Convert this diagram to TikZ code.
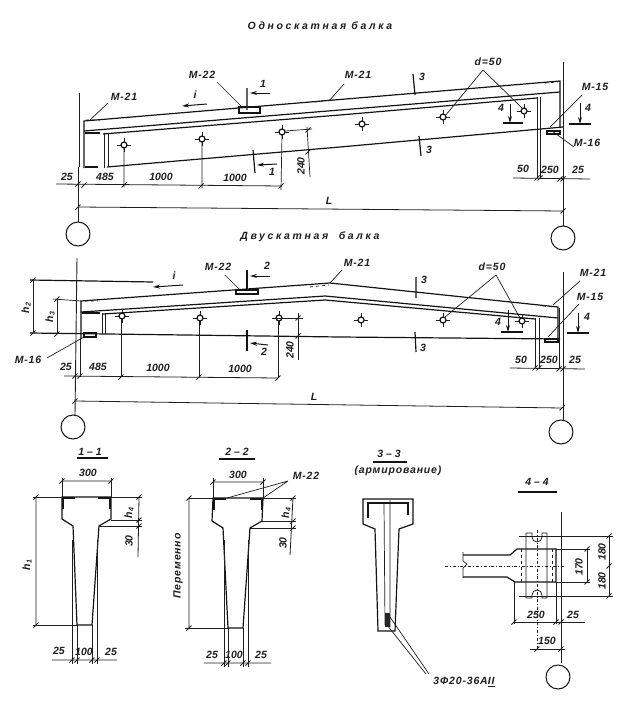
\documentclass[tikz,border=0pt]{standalone}
\usepackage{fontspec}
\usetikzlibrary{arrows.meta}
\setmainfont{Liberation Sans}
\newfontfamily\titlefont[LetterSpace=25]{Liberation Sans}
\newfontfamily\markfont[LetterSpace=8]{Liberation Sans}
\newcommand{\ticks}[1]{\foreach \p in {#1} \draw [dimline] \p ++(-2.5,2.5) -- ++(5,-5);}
\newcommand{\hole}[1]{\draw [thinline] #1 ++(-7,0) -- ++(14,0) #1 ++(0,-7) -- ++(0,14);
    \draw [beam, fill=white] #1 circle (3);}
\newcommand{\hsub}[1]{h\hspace{0.6pt}{\fontsize{7}{7}\selectfont\raisebox{-1.5pt}{#1}}}
\begin{document}
\begin{tikzpicture}[x=1pt,y=-1pt]
    \tikzstyle{beam} = [line width=1.2pt,black!92]
    \tikzstyle{heavy} = [line width=1.7pt,black!92]
    \tikzstyle{thinline} = [line width=0.7pt,black!88]
    \tikzstyle{dimline} = [line width=0.8pt,black!88]
    \tikzstyle{axis} = [line width=0.9pt,black!88]
    \tikzstyle{arrow} = [line width=1pt,-{Stealth[length=7pt,width=4pt]},black!92]
    \tikzstyle{wheel} = [draw,circle,line width=1pt,minimum size=24pt,inner sep=0pt,black!92]
    \tikzstyle{lbl} = [inner sep=0pt,font=\bfseries\itshape\fontsize{10.5}{10.5}\selectfont,black!88]
    \tikzstyle{mrk} = [inner sep=0pt,font=\markfont\bfseries\itshape\fontsize{10.5}{10.5}\selectfont,black!88]
    \tikzstyle{hdr} = [inner sep=0pt,font=\titlefont\bfseries\itshape\fontsize{10.5}{10.5}\selectfont,black!88]
    \useasboundingbox [fill=white] (0,0) rectangle (630,701);

    % Top title
    \node [hdr] (Title1) at (320,26) {Односкатная\enspace балка};

    % Top beam outline
    \draw [beam] (84,168) -- (84,121) -- (560,81) -- (560,128);
    \draw [beam] (84,131) -- (340,110) -- (560,92);
    \draw [beam] (103,134) -- (340,115) -- (537,98);
    \draw [beam] (107,167) -- (340,147) -- (563,127);
    \draw [thinline] (104,133) -- (104,168) (108,133) -- (108,167);
    \draw [thinline] (537,97) -- (537,178) (540,97) -- (540,178);
    \draw [heavy] (85,167) -- (98,167) (85,133) -- (100,133);

    % Top beam plates
    \draw [beam] (239,107) rectangle (260,113);
    \draw [thinline,dashed] (315,102) -- (330,100) (86,120) -- (100,120) (545,83) -- (558,82);
    \draw [beam] (547,131) rectangle (560,134);

    % Top beam holes
    \foreach \h in {(124,145),(202,139),(282,132),(362,124),(443,117),(524,111)} {\hole{\h}}

    % Top beam axes and wheels
    \draw [axis] (79,93) -- (79,167) (78,167) -- (78,222);
    \draw [axis] (563,62) -- (563,226);
    \node [wheel] (Wheel1) at (78,234) {};
    \node [wheel] (Wheel2) at (563,238) {};

    % Top beam dimensions
    \draw [dimline] (56,184) -- (282,186) (513,178) -- (590,179) (78,207) -- (563,211);
    \draw [thinline] (124,148) -- (124,187) (202,142) -- (202,188) (282,135) -- (281,190);
    \draw [thinline] (285,131) -- (312,129) (307,127) -- (310,177);
    \ticks{(78,184),(84,185),(124,185),(201,186),(281,186),(308,152),(308,130),(537,178),(540,178),(560,179),(563,179),(78,207),(563,211)}
    \node [lbl] (d25a) at (67,177) {25};
    \node [lbl] (d485a) at (105,177) {485};
    \node [lbl] (d1000a) at (161,177) {1000};
    \node [lbl] (d1000b) at (235,178) {1000};
    \node [lbl,rotate=90] (d240a) at (301,166) {240};
    \node [lbl] (d50a) at (523,169) {50};
    \node [lbl] (d250a) at (550,170) {250};
    \node [lbl] (d25b) at (578,170) {25};
    \node [lbl] (La) at (329,201) {L};

    % Top beam marks
    \node [mrk] (M21a) at (124,97) {М-21};
    \draw [thinline] (108,103) -- (90,120);
    \node [mrk] (M22a) at (202,75) {М-22};
    \draw [thinline] (217,82) -- (242,107);
    \node [mrk] (M21b) at (358,75) {М-21};
    \draw [thinline] (344,84) -- (329,101);
    \node [mrk] (M15a) at (595,87) {М-15};
    \draw [thinline] (582,95) -- (550,127);
    \node [mrk] (M16a) at (587,143) {М-16};
    \draw [thinline] (574,147) -- (552,131);
    \node [mrk] (Da) at (488,62) {d=50};
    \draw [thinline] (483,70) -- (445,116) (483,70) -- (523,109);
    \node [lbl] (ia) at (195,95) {i};
    \draw [arrow] (207,104) -- (182,106);

    % Top beam sections
    \draw [beam] (247,88) -- (247,110) (253,150) -- (255,173);
    \draw [arrow] (270,93) -- (250,93);
    \draw [arrow] (277,164) -- (257,165);
    \node [lbl] (s1a) at (263,84) {1};
    \node [lbl] (s1b) at (272,172) {1};
    \draw [beam] (413,74) -- (415,95) (419,136) -- (421,156);
    \node [lbl] (s3a) at (422,77) {3};
    \node [lbl] (s3b) at (429,150) {3};
    \draw [heavy] (503,123) -- (523,123) (569,124) -- (591,124);
    \draw [arrow] (510,104) -- (510,123);
    \draw [arrow] (580,103) -- (580,124);
    \node [lbl] (s4a) at (501,108) {4};
    \node [lbl] (s4b) at (588,108) {4};

    % Lower title
    \node [hdr] (Title2) at (310,237) {Двускатная\quad балка};

    % Lower beam outline
    \draw [beam] (81,338) -- (81,301) -- (330,283) -- (558,307) -- (558,339);
    \draw [beam] (81,312) -- (325,296) -- (558,318);
    \draw [beam] (103,314) -- (325,300) -- (535,319);
    \draw [beam] (30,333) -- (340,337) -- (560,339);
    \draw [thinline] (102,313) -- (102,334) (105,313) -- (105,334);
    \draw [thinline] (535,318) -- (535,368) (539,318) -- (539,368) (559,308) -- (559,368);
    \draw [heavy] (82,313) -- (100,313);

    % Lower beam plates
    \draw [beam] (236,290) rectangle (258,294);
    \draw [thinline,dashed] (310,287) -- (329,285) (85,301) -- (98,301) (543,306) -- (555,307);
    \draw [beam] (84,333) rectangle (96,337);
    \draw [beam] (545,339) rectangle (558,342);

    % Lower beam holes
    \foreach \h in {(122,316),(200,318),(279,318),(361,320),(443,320),(522,321)} {\hole{\h}}

    % Lower beam axes and wheels
    \draw [axis] (77,258) -- (75,415);
    \draw [axis] (563,272) -- (563,420);
    \node [wheel] (Wheel3) at (73,427) {};
    \node [wheel] (Wheel4) at (561,432) {};

    % Lower beam dimensions
    \draw [beam] (30,280) -- (153,282);
    \draw [thinline] (53,299) -- (81,301);
    \draw [dimline] (33,280) -- (33,333) (57,299) -- (57,334);
    \draw [dimline] (64,376) -- (278,378) (510,368) -- (585,369) (75,401) -- (562,408);
    \draw [thinline] (80,338) -- (80,377) (121,319) -- (121,376) (199,321) -- (199,377) (278,321) -- (278,378);
    \draw [thinline] (272,318) -- (303,318) (298,313) -- (298,360);
    \ticks{(33,280),(33,333),(57,299),(57,334),(75,376),(80,376),(121,377),(199,377),(278,378),(298,318),(298,336),(535,368),(539,368),(559,369),(563,369),(75,401),(562,408)}
    \node [lbl,rotate=90] (h2) at (26,308) {\hsub{2}};
    \node [lbl,rotate=90] (h3) at (50,317) {\hsub{3}};
    \node [lbl] (d25c) at (66,367) {25};
    \node [lbl] (d485b) at (98,367) {485};
    \node [lbl] (d1000c) at (158,368) {1000};
    \node [lbl] (d1000d) at (240,369) {1000};
    \node [lbl,rotate=90] (d240b) at (290,350) {240};
    \node [lbl] (d50b) at (521,360) {50};
    \node [lbl] (d250b) at (549,360) {250};
    \node [lbl] (d25d) at (575,360) {25};
    \node [lbl] (Lb) at (314,397) {L};

    % Lower beam marks
    \node [mrk] (M16b) at (28,360) {М-16};
    \draw [thinline] (47,358) -- (84,337);
    \node [mrk] (M22b) at (218,267) {М-22};
    \draw [thinline] (225,275) -- (240,290);
    \node [mrk] (M21c) at (357,263) {М-21};
    \draw [thinline] (342,270) -- (330,283);
    \node [mrk] (M21d) at (593,273) {М-21};
    \draw [thinline] (580,281) -- (553,305);
    \node [mrk] (M15b) at (590,297) {М-15};
    \draw [thinline] (579,304) -- (548,337);
    \node [mrk] (Db) at (492,267) {d=50};
    \draw [thinline] (496,275) -- (445,317) (496,275) -- (520,318);
    \node [lbl] (ib) at (174,276) {i};
    \draw [arrow] (183,285) -- (153,287);

    % Lower beam sections
    \draw [beam] (247,270) -- (247,290) (247,330) -- (247,351);
    \draw [arrow] (270,276) -- (250,276);
    \draw [arrow] (268,345) -- (250,343);
    \node [lbl] (s2a) at (267,266) {2};
    \node [lbl] (s2b) at (264,352) {2};
    \draw [beam] (416,277) -- (416,298) (415,332) -- (416,352);
    \node [lbl] (s3c) at (424,280) {3};
    \node [lbl] (s3d) at (423,348) {3};
    \draw [heavy] (501,332) -- (523,332) (567,333) -- (589,333);
    \draw [arrow] (508,310) -- (508,332);
    \draw [arrow] (578,313) -- (578,333);
    \node [lbl] (s4c) at (498,322) {4};
    \node [lbl] (s4d) at (587,317) {4};

    % Section 1-1
    \node [lbl] (Cut1) at (90,452) {1 -- 1};
    \draw [heavy] (77,458) -- (108,458);
    \draw [beam] (62,497) -- (111,497) -- (111,519) -- (99,526) -- (92,625) -- (77,625) -- (73,526) -- (62,519) -- cycle;
    \draw [heavy] (63,498) -- (63,509) (63,498) -- (75,498) (110,498) -- (110,509) (110,498) -- (98,498);
    \draw [thinline] (62,497) -- (62,478) (111,497) -- (111,478) (33,497) -- (62,497) (111,497) -- (142,497);
    \draw [thinline] (111,520) -- (142,520) (99,526) -- (142,526) (33,625) -- (77,625);
    \draw [dimline] (62,481) -- (111,481) (139,497) -- (138,557) (36,497) -- (36,625) (52,660) -- (117,660);
    \draw [thinline] (72,540) -- (72,664) (77,625) -- (77,664) (92,625) -- (92,664) (97,540) -- (97,664);
    \ticks{(62,481),(111,481),(139,497),(139,520),(139,526),(36,497),(36,625),(72,660),(77,660),(92,660),(97,660)}
    \node [lbl] (d300a) at (88,473) {300};
    \node [lbl,rotate=90] (h4a) at (129,513) {\hsub{4}};
    \node [lbl,rotate=90] (d30a) at (129,541) {30};
    \node [lbl,rotate=90] (h1) at (27,565) {\hsub{1}};
    \node [lbl] (d25e) at (59,651) {25};
    \node [lbl] (d100a) at (84,652) {100};
    \node [lbl] (d25f) at (111,652) {25};

    % Section 2-2
    \node [lbl] (Cut2) at (237,452) {2 -- 2};
    \draw [heavy] (219,459) -- (255,459);
    \draw [beam] (213,498) -- (263,498) -- (262,521) -- (250,528) -- (243,628) -- (228,628) -- (223,528) -- (212,521) -- cycle;
    \draw [heavy] (214,499) -- (214,510) (214,499) -- (226,499) (262,499) -- (262,510) (262,499) -- (250,499);
    \draw [thinline] (213,498) -- (213,478) (263,498) -- (263,478) (188,498) -- (213,498) (263,498) -- (296,498);
    \draw [thinline] (262,521) -- (296,521) (250,528) -- (296,528) (185,628) -- (228,628);
    \draw [thinline] (288,481) -- (227,498) (288,481) -- (263,498);
    \draw [dimline] (213,482) -- (263,482) (293,498) -- (290,555) (189,498) -- (189,628) (204,663) -- (271,663);
    \draw [thinline] (224,540) -- (224,667) (228,628) -- (228,667) (243,628) -- (243,667) (248,540) -- (248,667);
    \ticks{(213,482),(263,482),(293,498),(293,521),(293,528),(189,498),(189,628),(224,663),(228,663),(243,663),(248,663)}
    \node [lbl] (d300b) at (238,475) {300};
    \node [mrk] (M22c) at (306,476) {М-22};
    \node [lbl,rotate=90] (h4b) at (286,513) {\hsub{4}};
    \node [lbl,rotate=90] (d30b) at (283,543) {30};
    \node [mrk,rotate=90] (Var) at (178,566) {Переменно};
    \node [lbl] (d25g) at (212,655) {25};
    \node [lbl] (d100b) at (234,655) {100};
    \node [lbl] (d25h) at (261,655) {25};

    % Section 3-3
    \node [lbl] (Cut3) at (389,454) {3 -- 3};
    \draw [heavy] (373,462) -- (407,462);
    \node [mrk] (Rebar) at (398,471) {(армирование)};
    \draw [beam] (363,499) -- (413,499) -- (413,524) -- (399,529) -- (395,631) -- (378,631) -- (375,529) -- (363,524) -- cycle;
    \draw [heavy] (368,518) -- (368,503) -- (408,503) -- (408,515);
    \draw [thinline] (384,503) -- (385,625) (390,500) -- (390,627);
    \draw [line width=5pt,black!85] (387,613) -- (387,627);
    \draw [thinline] (390,617) -- (429,674) (387,625) -- (426,674);
    \node [mrk] (Bars) at (464,682) {3Ф20-36А\underline{II}};

    % Section 4-4
    \node [lbl] (Cut4) at (537,482) {4 -- 4};
    \draw [heavy] (518,492) -- (557,492);
    \draw [beam] (463,555) -- (510,555) -- (517,549) -- (556,549) -- (556,582) -- (515,582) -- (507,577) -- (463,577);
    \draw [thinline] (463,552) -- (463,561) -- (467,564) -- (463,568) -- (463,578);
    \draw [dimline] (526,598) -- (526,533) -- (532,533) -- (532,537) arc (180:0:5) -- (542,533) -- (547,533) -- (547,598) -- (542,598) -- (542,595) arc (0:-180:5) -- (532,598) -- cycle;
    \draw [thinline] (519,536) -- (613,536) (519,596) -- (613,596);
    \draw [thinline,dashed] (521,549) -- (521,582) (552,549) -- (552,582);
    \draw [thinline,dash dot] (445,566) -- (565,566) (537,530) -- (537,650);
    \draw [axis] (561,512) -- (561,663);
    \node [wheel] (Wheel5) at (558,677) {};
    \draw [thinline] (514,582) -- (514,624) (556,582) -- (556,624) (556,549) -- (590,549) (556,582) -- (590,582);
    \draw [dimline] (609,536) -- (609,596) (587,549) -- (587,582) (513,622) -- (585,622) (530,649) -- (565,649);
    \ticks{(609,536),(609,566),(609,596),(587,549),(587,582),(514,622),(556,622),(561,622),(537,649),(561,649)}
    \node [lbl,rotate=90] (d180a) at (602,552) {180};
    \node [lbl,rotate=90] (d180b) at (602,581) {180};
    \node [lbl,rotate=90] (d170) at (579,567) {170};
    \node [lbl] (d250c) at (536,615) {250};
    \node [lbl] (d25i) at (573,615) {25};
    \node [lbl] (d150) at (547,641) {150};
\end{tikzpicture}
\end{document}
